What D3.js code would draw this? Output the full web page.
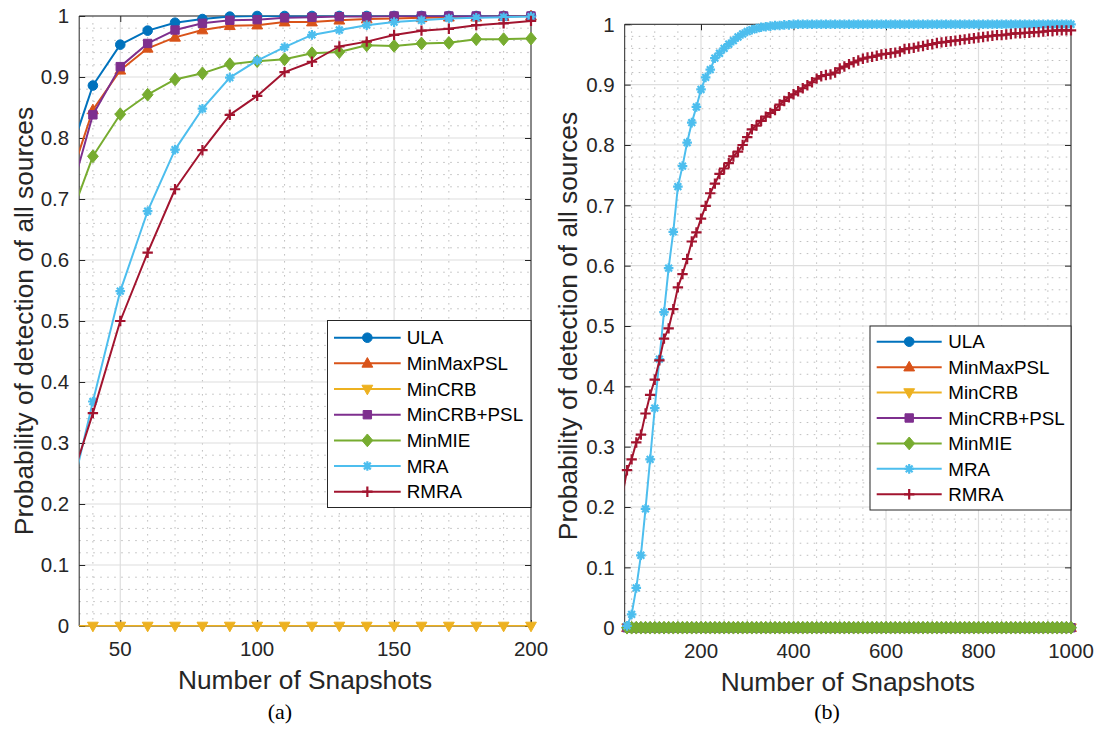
<!DOCTYPE html>
<html>
<head>
<meta charset="utf-8">
<script src="https://cdn.jsdelivr.net/npm/d3@7"></script>
<style>
  html, body { margin: 0; padding: 0; background: #fff; }
  svg { display: block; }
</style>
</head>
<body>
<svg id="chart" width="1096" height="753"></svg>
<script>
// ---------------- DATA ----------------
const seriesNames = ["ULA", "MinMaxPSL", "MinCRB", "MinCRB+PSL", "MinMIE", "MRA", "RMRA"];
const yTickValues = [0, 0.1, 0.2, 0.3, 0.4, 0.5, 0.6, 0.7, 0.8, 0.9, 1];
const yTickLabels = ["0", "0.1", "0.2", "0.3", "0.4", "0.5", "0.6", "0.7", "0.8", "0.9", "1"];

// Panel (a)
const snapshotsA = [30, 40, 50, 60, 70, 80, 90, 100, 110, 120, 130, 140, 150, 160, 170, 180, 190, 200];
const ulaA        = [0.752, 0.886, 0.953, 0.976, 0.989, 0.995, 0.999, 1, 1, 1, 1, 1, 1, 1, 1, 1, 1, 1];
const minMaxPslA  = [0.710, 0.846, 0.911, 0.947, 0.965, 0.977, 0.984, 0.985, 0.990, 0.990, 0.993, 0.995, 0.996, 0.997, 0.998, 0.998, 0.999, 1.0];
const minCrbA     = [0, 0, 0, 0, 0, 0, 0, 0, 0, 0, 0, 0, 0, 0, 0, 0, 0, 0];
const minCrbPslA  = [0.678, 0.838, 0.917, 0.955, 0.977, 0.988, 0.993, 0.994, 0.997, 0.998, 0.999, 0.999, 1, 1, 1, 1, 1, 1];
const minMieA     = [0.648, 0.770, 0.839, 0.871, 0.896, 0.906, 0.921, 0.926, 0.929, 0.939, 0.941, 0.952, 0.951, 0.955, 0.956, 0.962, 0.962, 0.963];
const mraA        = [0.176, 0.368, 0.549, 0.680, 0.781, 0.848, 0.899, 0.927, 0.949, 0.969, 0.977, 0.985, 0.990, 0.993, 0.996, 0.997, 0.998, 0.999];
const rmraA       = [0.209, 0.349, 0.500, 0.612, 0.716, 0.780, 0.838, 0.869, 0.908, 0.925, 0.950, 0.958, 0.969, 0.976, 0.979, 0.985, 0.988, 0.992];
const xTicksA = [50, 100, 150, 200];

// Panel (b)
const snapshotsB = [
  30, 40, 50, 60, 70, 80, 90, 100, 110, 120, 130, 140, 150, 160, 170, 180, 190, 200,
  210, 220, 230, 240, 250, 260, 270, 280, 290, 300, 310, 320, 330, 340, 350, 360, 370, 380,
  390, 400, 410, 420, 430, 440, 450, 460, 470, 480, 490, 500, 510, 520, 530, 540, 550, 560,
  570, 580, 590, 600, 610, 620, 630, 640, 650, 660, 670, 680, 690, 700, 710, 720, 730, 740,
  750, 760, 770, 780, 790, 800, 810, 820, 830, 840, 850, 860, 870, 880, 890, 900, 910, 920,
  930, 940, 950, 960, 970, 980, 990, 1000];
const zerosB = [
  0, 0, 0, 0, 0, 0, 0, 0, 0, 0, 0, 0, 0, 0, 0, 0, 0, 0,
  0, 0, 0, 0, 0, 0, 0, 0, 0, 0, 0, 0, 0, 0, 0, 0, 0, 0,
  0, 0, 0, 0, 0, 0, 0, 0, 0, 0, 0, 0, 0, 0, 0, 0, 0, 0,
  0, 0, 0, 0, 0, 0, 0, 0, 0, 0, 0, 0, 0, 0, 0, 0, 0, 0,
  0, 0, 0, 0, 0, 0, 0, 0, 0, 0, 0, 0, 0, 0, 0, 0, 0, 0,
  0, 0, 0, 0, 0, 0, 0, 0];
const mraB = [
  0, 0.003, 0.022, 0.066, 0.120, 0.197, 0.279, 0.364, 0.445, 0.523, 0.596, 0.656, 0.731, 0.765, 0.804, 0.837, 0.863, 0.892,
  0.912, 0.925, 0.944, 0.952, 0.960, 0.967, 0.973, 0.979, 0.984, 0.988, 0.991, 0.993, 0.995, 0.996, 0.997, 0.998, 0.998, 0.999,
  0.999, 1, 1, 1, 1, 1, 1, 1, 1, 1, 1, 1, 1, 1, 1, 1, 1, 1,
  1, 1, 1, 1, 1, 1, 1, 1, 1, 1, 1, 1, 1, 1, 1, 1, 1, 1,
  1, 1, 1, 1, 1, 1, 1, 1, 1, 1, 1, 1, 1, 1, 1, 1, 1, 1,
  1, 1, 1, 1, 1, 1, 1, 1];
const rmraB = [
  0.219, 0.261, 0.279, 0.307, 0.320, 0.355, 0.386, 0.411, 0.443, 0.479, 0.496, 0.528, 0.564, 0.586, 0.611, 0.640, 0.655, 0.678,
  0.699, 0.720, 0.736, 0.752, 0.761, 0.770, 0.781, 0.789, 0.800, 0.813, 0.826, 0.832, 0.840, 0.847, 0.853, 0.858, 0.867, 0.873,
  0.879, 0.884, 0.889, 0.894, 0.899, 0.904, 0.910, 0.914, 0.916, 0.917, 0.920, 0.927, 0.930, 0.934, 0.937, 0.940, 0.943, 0.945,
  0.946, 0.948, 0.950, 0.951, 0.952, 0.953, 0.955, 0.959, 0.960, 0.961, 0.963, 0.964, 0.966, 0.967, 0.969, 0.970, 0.971, 0.972,
  0.973, 0.974, 0.975, 0.976, 0.977, 0.978, 0.979, 0.980, 0.981, 0.982, 0.982, 0.983, 0.984, 0.985, 0.985, 0.986, 0.986, 0.987,
  0.987, 0.988, 0.989, 0.989, 0.990, 0.990, 0.990, 0.990];
const xTicksB = [200, 400, 600, 800, 1000];

const xLabel = "Number of Snapshots";
const yLabel = "Probability of detection of all sources";
const captions = ["(a)", "(b)"];

// ---------------- STYLES ----------------
const colors = ["#0072BD", "#D95319", "#EDB120", "#7E2F8E", "#77AC30", "#4DBEEE", "#A2142F"];
const markers = ["circle", "triUp", "triDown", "square", "diamond", "asterisk", "plus"];
const axisColor = "#262626";
const sansFont = "'Liberation Sans', Arial, Helvetica, sans-serif";
const serifFont = "'Liberation Serif', 'Times New Roman', serif";
const tickFont = 20.5, labelFont = 26.3, legendFont = 18.8;

function markerPath(type) {
  switch (type) {
    case "circle": { const r = 4.8; return `M${-r},0A${r},${r} 0 1,0 ${r},0A${r},${r} 0 1,0 ${-r},0Z`; }
    case "triUp": return "M0,-5.8L5.4,3.8L-5.4,3.8Z";
    case "triDown": return "M0,5.8L5.4,-3.8L-5.4,-3.8Z";
    case "square": return "M-4.2,-4.2L4.2,-4.2L4.2,4.2L-4.2,4.2Z";
    case "diamond": return "M0,-6.4L5.4,0L0,6.4L-5.4,0Z";
    case "asterisk": { const a = 4.8, d = 3.4; return `M${-a},0L${a},0M0,${-a}L0,${a}M${-d},${-d}L${d},${d}M${-d},${d}L${d},${-d}`; }
    case "plus": { const a = 5.2; return `M${-a},0L${a},0M0,${-a}L0,${a}`; }
  }
}
function drawMarker(g, type, color, x, y) {
  const p = g.append("path").attr("d", markerPath(type)).attr("transform", `translate(${x},${y})`);
  if (type === "asterisk" || type === "plus") {
    p.attr("fill", "none").attr("stroke", color).attr("stroke-width", 2.2).attr("stroke-linecap", "butt");
  } else {
    p.attr("fill", color).attr("stroke", color).attr("stroke-width", 1);
  }
}

const svg = d3.select("#chart");

function drawPanel(cfg, idx) {
  const x = d3.scaleLinear().domain(cfg.xDomain).range([cfg.x0, cfg.x1]);
  const y = d3.scaleLinear().domain([0, 1]).range([cfg.yBot, cfg.yTop]);
  const g = svg.append("g");

  // minor grid
  const minorG = g.append("g");
  cfg.xMinor.forEach(v => minorG.append("line")
    .attr("x1", x(v)).attr("x2", x(v)).attr("y1", cfg.yTop).attr("y2", cfg.yBot)
    .attr("stroke", "#bfbfbf").attr("stroke-width", 1).attr("stroke-dasharray", "1.6,5.4"));
  cfg.yMinor.forEach(v => minorG.append("line")
    .attr("y1", y(v)).attr("y2", y(v)).attr("x1", cfg.x0).attr("x2", cfg.x1)
    .attr("stroke", "#bfbfbf").attr("stroke-width", 1).attr("stroke-dasharray", "1.6,5.4"));

  // major grid
  const majorG = g.append("g");
  cfg.xTicks.forEach(v => majorG.append("line")
    .attr("x1", x(v)).attr("x2", x(v)).attr("y1", cfg.yTop).attr("y2", cfg.yBot)
    .attr("stroke", "#dedede").attr("stroke-width", 1.2));
  yTickValues.forEach(v => majorG.append("line")
    .attr("y1", y(v)).attr("y2", y(v)).attr("x1", cfg.x0).attr("x2", cfg.x1)
    .attr("stroke", "#dedede").attr("stroke-width", 1.2));

  // axes via d3 axis (inward ticks, box)
  const tickLen = 6;
  const xAxisB = d3.axisBottom(x).tickValues(cfg.xTicks).tickSize(-tickLen).tickFormat("");
  const xAxisT = d3.axisTop(x).tickValues(cfg.xTicks).tickSize(-tickLen).tickFormat("");
  const yAxisL = d3.axisLeft(y).tickValues(yTickValues).tickSize(-tickLen).tickFormat("");
  const yAxisR = d3.axisRight(y).tickValues(yTickValues).tickSize(-tickLen).tickFormat("");
  const axes = [
    [xAxisB, `translate(0,${cfg.yBot})`, true],
    [xAxisT, `translate(0,${cfg.yTop})`, true],
    [yAxisL, `translate(${cfg.x0},0)`, false],
    [yAxisR, `translate(${cfg.x1},0)`, false]
  ];
  axes.forEach(([ax, tr, isX]) => {
    const a = g.append("g").attr("transform", tr).call(ax);
    a.select(".domain").attr("stroke", axisColor).attr("stroke-width", 1)
      .attr("d", isX ? `M${cfg.x0},0H${cfg.x1}` : `M0,${cfg.yBot}V${cfg.yTop}`);
    a.selectAll(".tick line").attr("stroke", axisColor).attr("stroke-width", 1);
  });

  // tick labels
  cfg.xTicks.forEach(v => g.append("text")
    .attr("x", x(v)).attr("y", cfg.yBot + 30)
    .attr("text-anchor", "middle").attr("font-family", sansFont).attr("font-size", tickFont)
    .attr("fill", axisColor).text(v));
  yTickValues.forEach((v, i) => g.append("text")
    .attr("x", cfg.x0 - 10).attr("y", y(v)).attr("dy", "0.36em")
    .attr("text-anchor", "end").attr("font-family", sansFont).attr("font-size", tickFont)
    .attr("fill", axisColor).text(yTickLabels[i]));

  // axis labels
  g.append("text")
    .attr("x", (cfg.x0 + cfg.x1) / 2).attr("y", cfg.yBot + 63)
    .attr("text-anchor", "middle").attr("font-family", sansFont).attr("font-size", labelFont)
    .attr("fill", axisColor).text(xLabel);
  g.append("text")
    .attr("transform", `translate(${cfg.yLabelX},${(cfg.yTop + cfg.yBot) / 2}) rotate(-90)`)
    .attr("dy", "0.35em")
    .attr("text-anchor", "middle").attr("font-family", sansFont).attr("font-size", labelFont)
    .attr("fill", axisColor).text(yLabel);

  // data
  const clipId = "clip" + idx;
  svg.append("defs").append("clipPath").attr("id", clipId).append("rect")
    .attr("x", cfg.x0).attr("y", cfg.yTop - 0.5).attr("width", cfg.x1 - cfg.x0).attr("height", cfg.yBot - cfg.yTop + 1);
  const dataG = g.append("g");
  const line = d3.line().x(d => x(d[0])).y(d => y(d[1]));
  cfg.series.forEach((vals, si) => {
    const pts = cfg.xs.map((xv, i) => [xv, vals[i]]);
    const sg = dataG.append("g");
    sg.append("path").attr("d", line(pts)).attr("fill", "none")
      .attr("stroke", colors[si]).attr("stroke-width", 2).attr("stroke-linejoin", "round")
      .attr("clip-path", `url(#${clipId})`);
    pts.filter(p => p[0] >= cfg.xDomain[0] && p[0] <= cfg.xDomain[1])
      .forEach(p => drawMarker(sg, markers[si], colors[si], x(p[0]), y(p[1])));
  });

  // legend
  const L = cfg.legend;
  const lg = g.append("g");
  lg.append("rect").attr("x", L.x).attr("y", L.y).attr("width", L.w).attr("height", L.h)
    .attr("fill", "#fff").attr("stroke", axisColor).attr("stroke-width", 1);
  seriesNames.forEach((name, si) => {
    const cy = L.row0 + si * L.step;
    lg.append("line").attr("x1", L.lx0).attr("x2", L.lx1).attr("y1", cy).attr("y2", cy)
      .attr("stroke", colors[si]).attr("stroke-width", 2);
    drawMarker(lg, markers[si], colors[si], (L.lx0 + L.lx1) / 2, cy);
    lg.append("text").attr("x", L.tx).attr("y", cy).attr("dy", "0.36em")
      .attr("font-family", sansFont).attr("font-size", legendFont).attr("fill", "#000").text(name);
  });

  // caption
  svg.append("text").attr("x", cfg.capX).attr("y", cfg.capY)
    .attr("text-anchor", "middle").attr("font-family", serifFont).attr("font-size", 22)
    .attr("fill", "#000").text(captions[idx]);
}

const panels = [
  {
    x0: 79.2, x1: 531, yTop: 16, yBot: 626, xDomain: [35, 200],
    xTicks: xTicksA, xMinor: d3.range(40, 200, 10).filter(v => v % 50 !== 0),
    yMinor: d3.range(0.02, 1, 0.02).filter(v => Math.abs(v * 10 - Math.round(v * 10)) > 1e-6),
    xs: snapshotsA, series: [ulaA, minMaxPslA, minCrbA, minCrbPslA, minMieA, mraA, rmraA],
    yLabelX: 24,
    legend: { x: 327.5, y: 320.5, w: 203.5, h: 187, row0: 337.7, step: 25.67, lx0: 334, lx1: 400.7, tx: 406.7 },
    capX: 280, capY: 719
  },
  {
    x0: 624.7, x1: 1071, yTop: 24.3, yBot: 627.7, xDomain: [35, 1000],
    xTicks: xTicksB, xMinor: d3.range(50, 1000, 50).filter(v => v % 200 !== 0),
    yMinor: d3.range(0.02, 1, 0.02).filter(v => Math.abs(v * 10 - Math.round(v * 10)) > 1e-6),
    xs: snapshotsB, series: [zerosB, zerosB, zerosB, zerosB, zerosB, mraB, rmraB],
    yLabelX: 568,
    legend: { x: 870, y: 326, w: 201, h: 184, row0: 341.7, step: 25.43, lx0: 876.7, lx1: 941.7, tx: 948.3 },
    capX: 827, capY: 719
  }
];
panels.forEach((p, i) => drawPanel(p, i));
</script>
</body>
</html>
